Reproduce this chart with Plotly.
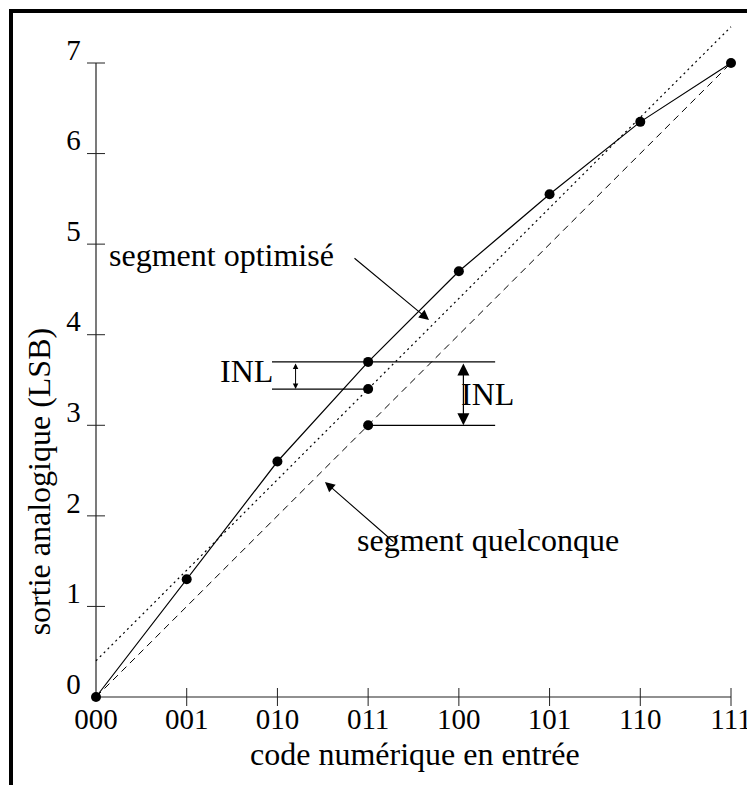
import plotly.graph_objects as go

# données : code d'entrée (3 bits) et sortie analogique mesurée (LSB)
codes = [0, 1, 2, 3, 4, 5, 6, 7]
code_labels = ["000", "001", "010", "011", "100", "101", "110", "111"]
sortie = [0.0, 1.3, 2.6, 3.7, 4.7, 5.55, 6.35, 7.0]
y_ticks = [0, 1, 2, 3, 4, 5, 6, 7]

# droite optimisée (pointillés) : extrémités
fit_x = [0, 7]
fit_y = [0.4, 7.4]

# points de référence au code 011
ref_code = 3
ref_fit = 3.4      # sur la droite optimisée
ref_ends = 3.0     # sur la droite des extrémités

FONT = dict(family="Liberation Serif", size=32, color="black")
TICK_FONT = dict(family="Liberation Serif", size=29, color="black")

# la page ajoute une marge de 8 px autour de la figure
OFF = 8
W, H = 755 - OFF, 785 - OFF
# calage pixels (page) -> données
X0_PX, X7_PX = 96 - OFF, 731 - OFF
Y0_PX, Y7_PX = 697 - OFF, 63 - OFF
sx = (X7_PX - X0_PX) / 7
sy = (Y0_PX - Y7_PX) / 7

fig = go.Figure()

# axes dessinés à la main (axe y limité à 0..7, graduations croisées)
tick_h = 9 / sy
tick_w = 9 / sx
fig.add_trace(go.Scatter(x=[codes[0], codes[-1]], y=[0, 0], mode="lines",
                         line=dict(color="#222", width=1.2), hoverinfo="skip"))
fig.add_trace(go.Scatter(x=[0, 0], y=[y_ticks[0], y_ticks[-1]], mode="lines",
                         line=dict(color="#222", width=1.2), hoverinfo="skip"))
tx, ty = [], []
for c in codes[1:]:
    tx += [c, c, None]
    ty += [-tick_h, tick_h, None]
for v in y_ticks[1:]:
    tx += [-tick_w, tick_w, None]
    ty += [v, v, None]
fig.add_trace(go.Scatter(x=tx, y=ty, mode="lines",
                         line=dict(color="#222", width=1), hoverinfo="skip"))

# étiquettes des graduations
fig.add_trace(go.Scatter(x=codes, y=[-25 / sy] * len(codes), mode="text",
                         text=code_labels, textfont=TICK_FONT, hoverinfo="skip"))
fig.add_trace(go.Scatter(x=[-22.5 / sx] * len(y_ticks), y=[v + 10.5 / sy for v in y_ticks],
                         mode="text", text=[str(v) for v in y_ticks],
                         textfont=TICK_FONT, hoverinfo="skip"))

# segment quelconque (extrémités) en tirets
fig.add_trace(go.Scatter(x=[codes[0], codes[-1]], y=[sortie[0], sortie[-1]], mode="lines",
                         line=dict(color="black", width=1, dash="7px,5px"), hoverinfo="skip"))
# segment optimisé en pointillés
fig.add_trace(go.Scatter(x=fit_x, y=fit_y, mode="lines",
                         line=dict(color="black", width=1.2, dash="2px,3.5px"), hoverinfo="skip"))

# lignes horizontales de mesure de l'INL
x_left, x_right = 1.94, 4.4
fig.add_trace(go.Scatter(
    x=[x_left, x_right, None, x_left, ref_code, None, ref_code, x_right],
    y=[sortie[3], sortie[3], None, ref_fit, ref_fit, None, ref_ends, ref_ends],
    mode="lines", line=dict(color="black", width=1.3), hoverinfo="skip"))

# caractéristique de transfert
fig.add_trace(go.Scatter(x=codes, y=sortie, mode="lines+markers",
                         line=dict(color="black", width=1.2),
                         marker=dict(color="black", size=10),
                         cliponaxis=False, hoverinfo="skip"))
fig.add_trace(go.Scatter(x=[ref_code, ref_code], y=[ref_fit, ref_ends], mode="markers",
                         marker=dict(color="black", size=10), hoverinfo="skip"))

annotations = [
    # flèches INL
    dict(x=2.2, y=ref_fit, ax=2.2, ay=sortie[3], arrowside="end+start",
         arrowhead=2, startarrowhead=2, arrowsize=1.1, startarrowsize=1.1, arrowwidth=1),
    dict(x=4.05, y=ref_ends, ax=4.05, ay=sortie[3], arrowside="end+start",
         arrowhead=2, startarrowhead=2, arrowsize=2, startarrowsize=2, arrowwidth=1.2),
    # flèches vers les segments
    dict(x=3.671, y=4.163, ax=2.833, ay=4.858, arrowhead=2, arrowsize=1.8, arrowwidth=1.1),
    dict(x=2.524, y=2.374, ax=3.296, ay=1.70, arrowhead=2, arrowsize=1.8, arrowwidth=1.1),
]
for a in annotations:
    a.update(xref="x", yref="y", axref="x", ayref="y", text="", showarrow=True,
             arrowcolor="black", standoff=0, startstandoff=0)

labels = [
    ("INL", 1.66, 3.6),
    ("INL", 4.32, 3.34),
    ("segment optimisé", 1.383, 4.88),
    ("segment quelconque", 4.32, 1.733),
    ("code numérique en entrée", 3.517, -0.63),
]
for txt, x, y in labels:
    annotations.append(dict(x=x, y=y, xref="x", yref="y", text=txt, showarrow=False,
                            font=FONT, xanchor="center", yanchor="middle"))
annotations.append(dict(x=-57 / sx, y=2.37, xref="x", yref="y", text="sortie analogique (LSB)",
                        textangle=-90, showarrow=False, font=FONT,
                        xanchor="center", yanchor="middle"))

# cadre (bords gauche et haut)
bx = 11 - OFF
shapes = [
    dict(type="line", xref="paper", yref="paper", x0=bx / W, x1=bx / W, y0=0, y1=1 - (bx - 2) / H,
         line=dict(color="black", width=4)),
    dict(type="line", xref="paper", yref="paper", x0=(bx - 2) / W, x1=1, y0=1 - bx / H, y1=1 - bx / H,
         line=dict(color="black", width=4)),
]

fig.update_layout(
    width=W, height=H,
    margin=dict(l=0, r=0, t=0, b=0),
    paper_bgcolor="white", plot_bgcolor="white",
    showlegend=False,
    xaxis=dict(visible=False, range=[-X0_PX / sx, (W - X0_PX) / sx]),
    yaxis=dict(visible=False, range=[-(H - Y0_PX) / sy, Y0_PX / sy]),
    annotations=annotations,
    shapes=shapes,
)

fig.write_html("out.html")
